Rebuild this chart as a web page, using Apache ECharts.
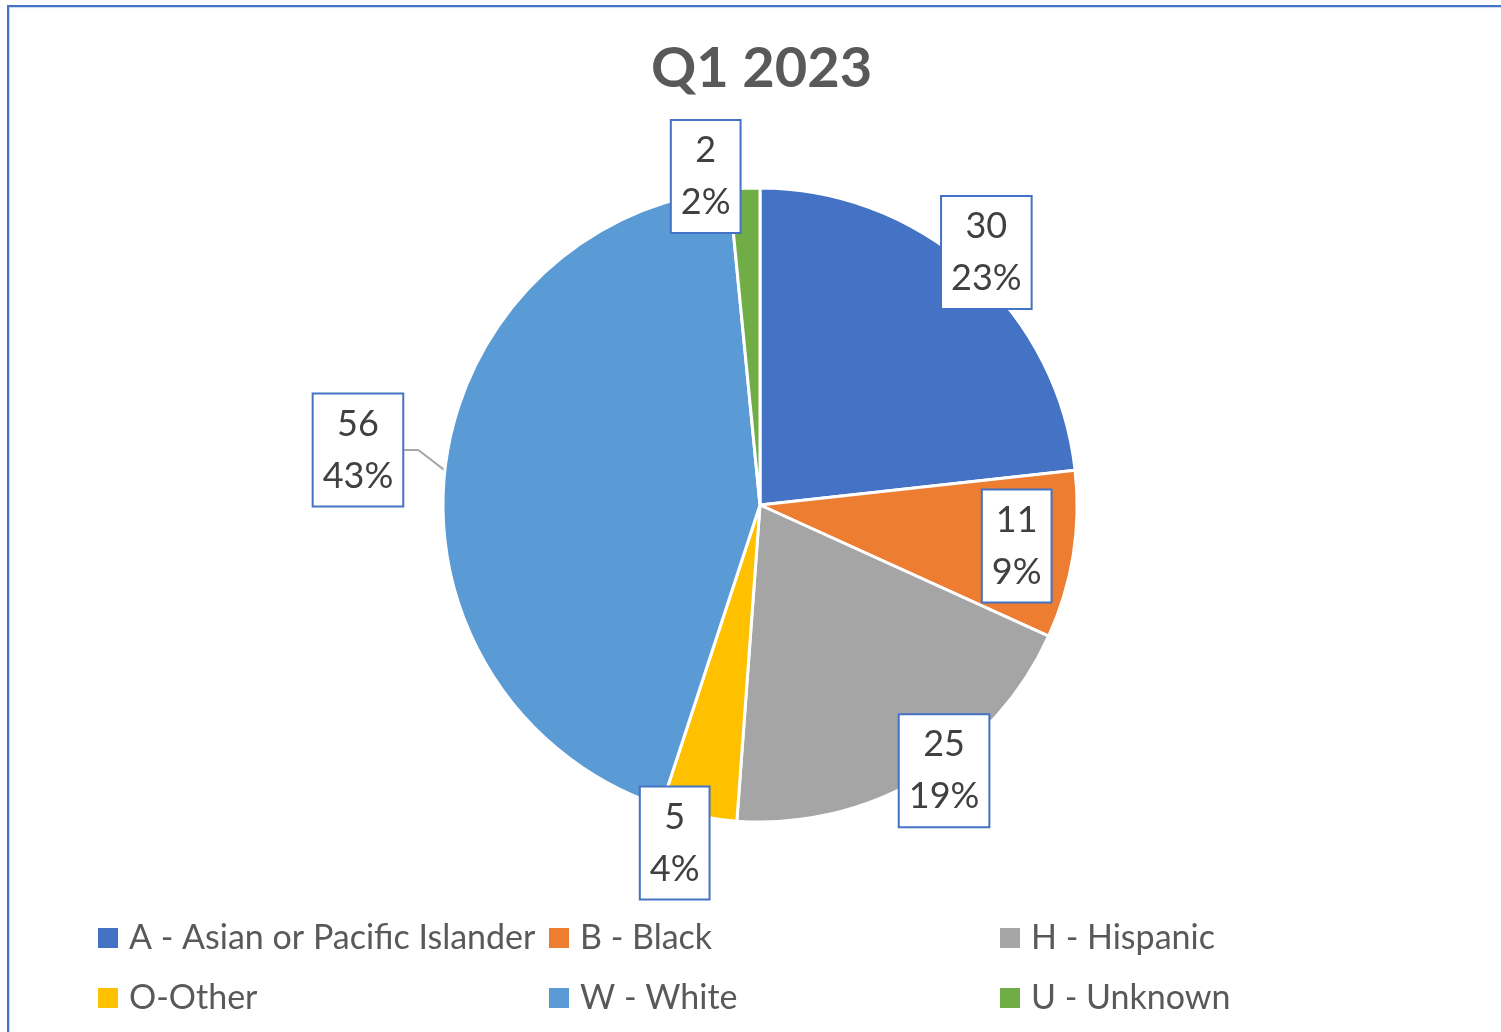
<!DOCTYPE html>
<html>
<head>
<meta charset="utf-8">
<script src="https://cdn.jsdelivr.net/npm/echarts@6/dist/echarts.min.js"></script>
<style>
    html, body { margin: 0; padding: 0; background: #fff; }
    #chart { width: 1501px; height: 1032px; }
    /* 外框 */
    .chart-frame {
        position: absolute; left: 7px; top: 5px; width: 1600px; height: 1100px;
        border: 2px solid #4472C4; box-shadow: inset 1px 1px 1px #c9d6ef;
        pointer-events: none;
    }
</style>
</head>
<body>
<div id="chart"></div>
<div class="chart-frame"></div>
<script>
// data
var categories = ['A - Asian or Pacific Islander', 'B - Black', 'H - Hispanic', 'O-Other', 'W - White', 'U - Unknown'];
var counts = [30, 11, 25, 5, 56, 2];
var colors = ['#4472C4', '#ED7D31', '#A5A5A5', '#FFC000', '#5B9BD5', '#70AD47'];

// pie geometry
var CX = 760, CY = 505, R = 317;
// label placement, relative to the slice mid angle (deg) and the radius
var labelAngleNudge = [0, 0, -4, 3, 1.5, -6.6];
var labelRadius = [1.07, 0.82, 1.02, 1.10, 1.28, 1.05];

var total = counts.reduce(function (a, b) { return a + b; }, 0);
var midAngles = [];
var acc = 0;
counts.forEach(function (v) {
    midAngles.push((acc + v / 2) / total * 360);
    acc += v;
});

var chart = echarts.init(document.getElementById('chart'));
chart.setOption({
    color: colors,
    title: {
        text: 'Q1 2023',
        left: 646,
        top: 36,
        textStyle: { fontFamily: 'Lato', fontSize: 56, fontWeight: 'bold', color: '#595959' }
    },
    legend: {
        left: 96,
        top: 908,
        width: 1390,
        padding: 0,
        itemGap: 0,
        itemWidth: 22,
        itemHeight: 22,
        icon: 'rect',
        textStyle: {
            fontFamily: 'Lato', fontSize: 34, color: '#595959',
            width: 418, lineHeight: 60, padding: [0, 0, 0, 5]
        },
        data: categories
    },
    series: [{
        type: 'pie',
        center: [CX, CY],
        radius: R,
        startAngle: 90,
        clockwise: true,
        percentPrecision: 0,
        animation: false,
        itemStyle: { borderColor: '#fff', borderWidth: 3 },
        label: {
            position: 'outside',
            formatter: '{c}\n{d}%',
            fontFamily: 'Lato',
            fontSize: 36,
            lineHeight: 52,
            color: '#404040',
            backgroundColor: '#fff',
            borderColor: '#4472C4',
            borderWidth: 2,
            padding: [7, 9, 0, 9]
        },
        labelLine: { show: false, lineStyle: { color: '#a6a6a6', width: 2 } },
        labelLayout: function (params) {
            var i = params.dataIndex;
            var a = (midAngles[i] + labelAngleNudge[i]) * Math.PI / 180;
            var r = R * labelRadius[i];
            return {
                x: CX + r * Math.sin(a),
                y: CY - r * Math.cos(a),
                align: 'center',
                verticalAlign: 'middle'
            };
        },
        data: categories.map(function (name, i) {
            var item = { name: name, value: counts[i] };
            if (name === 'W - White') {
                item.labelLine = { show: true, length: 12, length2: 14 };
            }
            return item;
        })
    }]
});
</script>
</body>
</html>
